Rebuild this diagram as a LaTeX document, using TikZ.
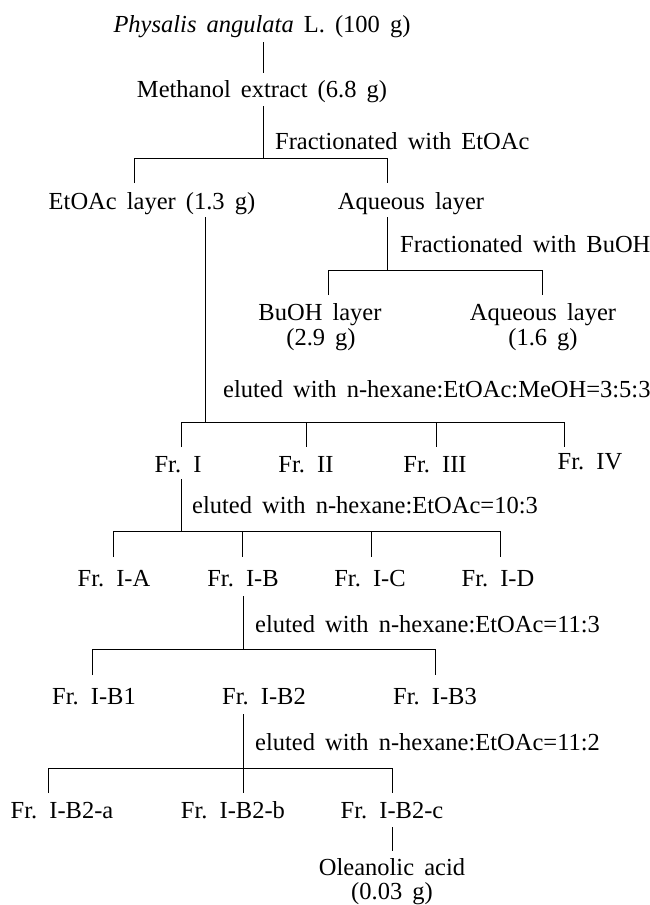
\documentclass[tikz,border=0pt]{standalone}
\usepackage{fontspec}
\setmainfont{Liberation Serif}[WordSpace=1.65]
\begin{document}
\begin{tikzpicture}[x=1pt,y=-1pt,
  t/.style={anchor=base,inner sep=0pt,font=\fontsize{24.5}{27}\selectfont},
  tl/.style={t,anchor=base west},
  ln/.style={line width=1pt}]
\useasboundingbox (0,0) rectangle (649,905);
% ---------- texts ----------
\node[t] (pa) at (262,32) {\textit{Physalis angulata} L. (100 g)};
\node[t] (me) at (262,97) {Methanol extract (6.8 g)};
\node[tl] (f1) at (275,149) {Fractionated with EtOAc};
\node[t] (et) at (152,209) {EtOAc layer (1.3 g)};
\node[t] (aq) at (411,209) {Aqueous layer};
\node[tl] (f2) at (400,252) {Fractionated with BuOH};
\node[t] (bu) at (320,320) {BuOH layer};
\node[t] (bug) at (321,345) {(2.9 g)};
\node[t] (aq2) at (543,320) {Aqueous layer};
\node[t] (aqg) at (543,345) {(1.6 g)};
\node[tl] (e1) at (223,397) {eluted with n-hexane:EtOAc:MeOH=3:5:3};
\node[t] (fr1) at (178,472) {Fr. I};
\node[t] (fr2) at (306,472) {Fr. II};
\node[t] (fr3) at (435,472) {Fr. III};
\node[t] (fr4) at (590,469) {Fr. IV};
\node[tl] (e2) at (192,513) {eluted with n-hexane:EtOAc=10:3};
\node[t] (ia) at (114,586) {Fr. I-A};
\node[t] (ib) at (243,586) {Fr. I-B};
\node[t] (ic) at (370,586) {Fr. I-C};
\node[t] (id) at (498,586) {Fr. I-D};
\node[tl] (e3) at (255,632) {eluted with n-hexane:EtOAc=11:3};
\node[t] (b1) at (94,704) {Fr. I-B1};
\node[t] (b2) at (264,704) {Fr. I-B2};
\node[t] (b3) at (435,704) {Fr. I-B3};
\node[tl] (e4) at (255,750) {eluted with n-hexane:EtOAc=11:2};
\node[t] (b2a) at (62,818) {Fr. I-B2-a};
\node[t] (b2b) at (233,818) {Fr. I-B2-b};
\node[t] (b2c) at (392,818) {Fr. I-B2-c};
\node[t] (ole) at (392,875) {Oleanolic acid};
\node[t] (oleg) at (392,899) {(0.03 g)};
% ---------- connector points ----------
\coordinate (s1a) at (263,42);  \coordinate (s1b) at (263,73);
\coordinate (s2a) at (263,106); \coordinate (s2b) at (263,158);
\coordinate (k1l) at (134,158); \coordinate (k1r) at (387,158);
\coordinate (k1ld) at (134,183); \coordinate (k1rd) at (387,183);
\coordinate (s3a) at (205,217); \coordinate (s3b) at (205,422);
\coordinate (s4a) at (387,217); \coordinate (s4b) at (387,270);
\coordinate (k2l) at (328,270); \coordinate (k2r) at (542,270);
\coordinate (k2ld) at (328,295); \coordinate (k2rd) at (542,295);
\coordinate (k3l) at (181,422); \coordinate (k3r) at (564,422);
\coordinate (k3a) at (181,447); \coordinate (k3b) at (306,447);
\coordinate (k3c) at (436,447); \coordinate (k3d) at (564,447);
\coordinate (k3bt) at (306,422); \coordinate (k3ct) at (436,422);
\coordinate (s5a) at (181,479); \coordinate (s5b) at (181,531);
\coordinate (k4l) at (113,531); \coordinate (k4r) at (500,531);
\coordinate (k4bt) at (242,531); \coordinate (k4ct) at (371,531);
\coordinate (k4a) at (113,557); \coordinate (k4b) at (242,557);
\coordinate (k4c) at (371,557); \coordinate (k4d) at (500,557);
\coordinate (s6a) at (243,596); \coordinate (s6b) at (243,649);
\coordinate (k5l) at (92,649);  \coordinate (k5r) at (435,649);
\coordinate (k5a) at (92,675);  \coordinate (k5b) at (435,675);
\coordinate (s7a) at (243,714); \coordinate (s7b) at (243,793);
\coordinate (k6l) at (48,768);  \coordinate (k6r) at (392,768);
\coordinate (k6a) at (48,793);  \coordinate (k6b) at (392,793);
\coordinate (s8a) at (392,827); \coordinate (s8b) at (392,851);
% ---------- connectors ----------
\draw[ln] (s1a) -- (s1b);
\draw[ln] (s2a) -- (s2b);
\draw[ln] (k1ld) -- (k1l) -- (k1r) -- (k1rd);
\draw[ln] (s3a) -- (s3b);
\draw[ln] (s4a) -- (s4b);
\draw[ln] (k2ld) -- (k2l) -- (k2r) -- (k2rd);
\draw[ln] (k3a) -- (k3l) -- (k3r) -- (k3d);
\draw[ln] (k3bt) -- (k3b);
\draw[ln] (k3ct) -- (k3c);
\draw[ln] (s5a) -- (s5b);
\draw[ln] (k4a) -- (k4l) -- (k4r) -- (k4d);
\draw[ln] (k4bt) -- (k4b);
\draw[ln] (k4ct) -- (k4c);
\draw[ln] (s6a) -- (s6b);
\draw[ln] (k5a) -- (k5l) -- (k5r) -- (k5b);
\draw[ln] (s7a) -- (s7b);
\draw[ln] (k6a) -- (k6l) -- (k6r) -- (k6b);
\draw[ln] (s8a) -- (s8b);
\end{tikzpicture}
\end{document}
